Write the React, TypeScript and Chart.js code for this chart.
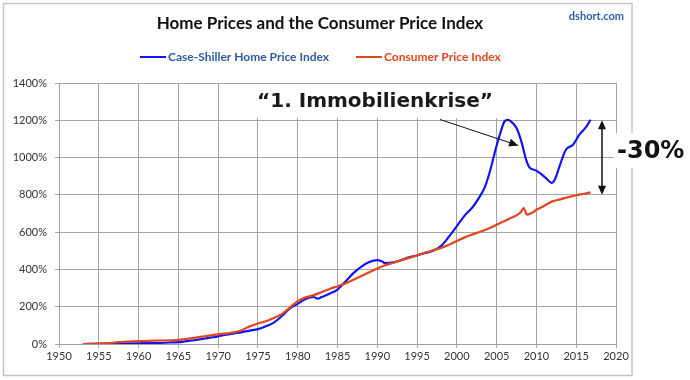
import React, { useEffect, useRef } from "react";
import { Chart, registerables } from "chart.js";

Chart.register(...registerables);

const homeYears = [1953, 1956, 1958, 1960, 1962, 1964, 1965, 1966, 1967, 1968, 1969, 1970, 1971, 1972, 1973, 1974, 1975, 1976, 1977, 1978, 1979, 1980, 1981, 1982, 1982.5, 1983, 1984, 1985, 1986, 1987, 1988, 1989, 1990, 1990.5, 1991, 1992, 1993, 1994, 1995, 1996, 1997, 1998, 1999, 2000, 2001, 2002, 2003, 2003.5, 2004.1, 2005, 2005.6, 2006, 2006.4, 2006.8, 2007.5, 2008.1, 2008.7, 2009.1, 2010, 2011.2, 2011.9, 2012.3, 2012.9, 2013.7, 2014.6, 2015.4, 2016.3, 2016.8];
const homeValues = [0, 2, 3, 4, 5, 8, 10, 15, 20, 27, 34, 41, 50, 57, 64, 72, 80, 95, 115, 150, 190, 215, 242, 252, 243, 252, 270, 292, 335, 380, 415, 440, 450, 445, 434, 438, 450, 465, 475, 488, 500, 525, 575, 632, 690, 735, 800, 840, 917, 1065, 1150, 1195, 1202, 1194, 1158, 1087, 989, 949, 930, 890, 864, 881, 953, 1042, 1069, 1123, 1167, 1203];

const cpiYears = [1953, 1955, 1957, 1958, 1960, 1962, 1964, 1965, 1966, 1967, 1968, 1969, 1970, 1971, 1972, 1973, 1974, 1975, 1976, 1977, 1978, 1979, 1980, 1981, 1982, 1983, 1984, 1985, 1986, 1987, 1988, 1989, 1990, 1991, 1992, 1993, 1994, 1995, 1996, 1997, 1998, 1999, 2000, 2001, 2002, 2003, 2004, 2005, 2006, 2007, 2008, 2008.4, 2008.8, 2009.5, 2010, 2011, 2012, 2013, 2014, 2015, 2016, 2016.8];
const cpiValues = [0, 2, 8, 12, 15, 18, 20, 22, 27, 33, 40, 46, 52, 57, 62, 75, 95, 110, 122, 140, 160, 195, 230, 250, 262, 278, 295, 310, 325, 345, 365, 385, 405, 422, 436, 449, 462, 475, 490, 503, 515, 532, 552, 572, 588, 603, 620, 640, 660, 680, 705, 729, 694, 705, 720, 742, 765, 776, 788, 798, 806, 813];

const seriesNames = ["Case-Shiller Home Price Index", "Consumer Price Index"];
const titleText = "Home Prices and the Consumer Price Index";
const sourceText = "dshort.com";
const annotationText = "\u201C1. Immobilienkrise\u201D";
const gapText = "-30%";

const BLUE = "#1414f0";
const RED = "#e2461c";

function arrowHead(ctx: CanvasRenderingContext2D, x1: number, y1: number, x2: number, y2: number, len: number, wid: number) {
  const a = Math.atan2(y2 - y1, x2 - x1);
  ctx.beginPath();
  ctx.moveTo(x2, y2);
  ctx.lineTo(x2 - len * Math.cos(a) + wid * Math.sin(a), y2 - len * Math.sin(a) - wid * Math.cos(a));
  ctx.lineTo(x2 - len * Math.cos(a) - wid * Math.sin(a), y2 - len * Math.sin(a) + wid * Math.cos(a));
  ctx.closePath();
  ctx.fill();
}

const overlay = {
  id: "overlay",
  beforeDatasetsDraw(chart: any) {
    const ctx = chart.ctx as CanvasRenderingContext2D;
    ctx.save();
    ctx.fillStyle = "#ffffff";
    ctx.fillRect(236, 84, 262, 34);
    ctx.restore();
  },
  afterDraw(chart: any) {
    const ctx = chart.ctx as CanvasRenderingContext2D;
    const xs = chart.scales.x;
    const ys = chart.scales.y;
    ctx.save();
    ctx.strokeStyle = "#c4c4c4";
    ctx.lineWidth = 1.5;
    ctx.strokeRect(3.5, 3.5, 628.5, 372);
    ctx.fillStyle = "#111111";
    ctx.font = "bold 17px Lato";
    ctx.textAlign = "center";
    ctx.textBaseline = "middle";
    ctx.fillText(titleText, 320, 24);
    ctx.fillStyle = "#2a5fa8";
    ctx.font = "bold 11px Lato";
    ctx.textAlign = "right";
    ctx.fillText(sourceText, 624, 16);
    ctx.textAlign = "left";
    ctx.font = "bold 12px Lato";
    ctx.lineWidth = 2;
    ctx.strokeStyle = BLUE;
    ctx.beginPath();
    ctx.moveTo(140, 57);
    ctx.lineTo(166, 57);
    ctx.stroke();
    ctx.fillStyle = "#2e5c9e";
    ctx.fillText(seriesNames[0], 168, 57.5);
    ctx.strokeStyle = RED;
    ctx.beginPath();
    ctx.moveTo(356, 57);
    ctx.lineTo(382, 57);
    ctx.stroke();
    ctx.fillStyle = RED;
    ctx.fillText(seriesNames[1], 384, 57.5);
    ctx.fillStyle = "#1a1a1a";
    ctx.font = "bold 20px 'DejaVu Sans'";
    ctx.textAlign = "center";
    ctx.fillText(annotationText, 375, 102);
    ctx.strokeStyle = "#111111";
    ctx.fillStyle = "#111111";
    ctx.lineWidth = 1;
    const ax1 = 440, ay1 = 119.5;
    const ax2 = xs.getPixelForValue(2007.7), ay2 = ys.getPixelForValue(1065);
    ctx.beginPath();
    ctx.moveTo(ax1, ay1);
    ctx.lineTo(ax2, ay2);
    ctx.stroke();
    arrowHead(ctx, ax1, ay1, ax2, ay2, 9, 4);
    ctx.fillStyle = "#ffffff";
    ctx.fillRect(614, 133, 76, 35);
    const dx = 602;
    const top = ys.getPixelForValue(1200);
    const bot = ys.getPixelForValue(800);
    ctx.fillStyle = "#111111";
    ctx.lineWidth = 1.5;
    ctx.beginPath();
    ctx.moveTo(dx, top + 4);
    ctx.lineTo(dx, bot - 4);
    ctx.stroke();
    arrowHead(ctx, dx, bot - 10, dx, bot, 9, 4);
    arrowHead(ctx, dx, top + 10, dx, top, 9, 4);
    ctx.font = "bold 24px 'DejaVu Sans'";
    ctx.textAlign = "left";
    ctx.fillText(gapText, 617, 152);
    ctx.restore();
  },
};

export default function App() {
  const ref = useRef<HTMLCanvasElement>(null);
  useEffect(() => {
    if (!ref.current) return;
    const chart = new Chart(ref.current, {
      type: "line",
      data: {
        datasets: [
          {
            label: seriesNames[0],
            data: homeYears.map((x, i) => ({ x, y: homeValues[i] })),
            borderColor: BLUE,
            backgroundColor: BLUE,
            borderWidth: 2.2,
            pointRadius: 0,
            cubicInterpolationMode: "monotone",
            order: 2,
          },
          {
            label: seriesNames[1],
            data: cpiYears.map((x, i) => ({ x, y: cpiValues[i] })),
            borderColor: RED,
            backgroundColor: RED,
            borderWidth: 2.2,
            pointRadius: 0,
            cubicInterpolationMode: "monotone",
            order: 1,
          },
        ],
      },
      options: {
        responsive: false,
        animation: false,
        devicePixelRatio: 1,
        layout: { padding: { left: 0, right: 74, top: 83, bottom: 6 } },
        plugins: { legend: { display: false }, title: { display: false }, tooltip: { enabled: false } },
        scales: {
          x: {
            type: "linear",
            min: 1950,
            max: 2020,
            border: { display: true, color: "#a0a0a0" },
            grid: { color: "#a4a4a4", lineWidth: 1, tickLength: 4, drawTicks: true },
            ticks: { stepSize: 5, color: "#333333", font: { family: "Lato", size: 11 }, padding: 2, maxRotation: 0, callback: (v: any) => String(v) },
            afterFit: (s: any) => { s.height = 30; },
          },
          y: {
            min: 0,
            max: 1400,
            border: { display: true, color: "#a0a0a0" },
            grid: { color: "#a4a4a4", lineWidth: 1, tickLength: 4 },
            ticks: { stepSize: 200, color: "#333333", font: { family: "Lato", size: 11 }, padding: 8, callback: (v: any) => v + "%" },
            afterFit: (s: any) => { s.width = 59; },
          },
        },
      },
      plugins: [overlay],
    });
    return () => chart.destroy();
  }, []);
  return (
    <div style={{ position: "fixed", left: 0, top: 0, width: 690, height: 380, background: "#fff" }}>
      <canvas ref={ref} width={690} height={380} style={{ width: 690, height: 380 }} />
    </div>
  );
}
